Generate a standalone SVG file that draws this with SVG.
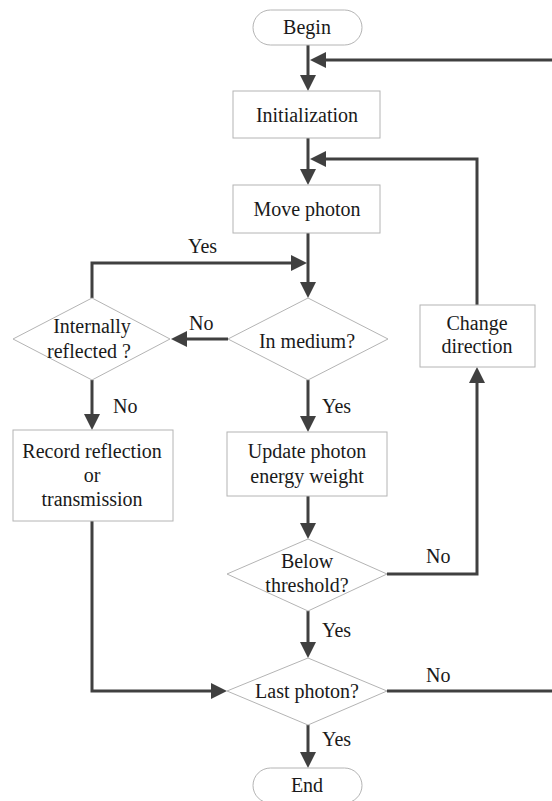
<svg xmlns="http://www.w3.org/2000/svg" width="552" height="801" viewBox="0 0 552 801">
  <style>
    .box { fill: #ffffff; stroke: #b4b4b4; stroke-width: 1; }
    text { font-family: 'Liberation Serif', Tinos, 'Times New Roman', Times, 'DejaVu Serif', serif; font-size: 20px; fill: #1a1a1a; }
    .t { text-anchor: middle; }
    .lbl { text-anchor: start; }
    .c { fill: none; stroke: #404040; stroke-width: 3; }
  </style>
  <defs>
    <marker id="arr" markerUnits="userSpaceOnUse" markerWidth="16" markerHeight="16" refX="10" refY="8" orient="auto">
      <path d="M0,0 L16,8 L0,16 z" fill="#404040"/>
    </marker>
  </defs>
  <rect width="552" height="801" fill="#ffffff"/>

  <g id="connectors">
    <path class="c" d="M308,45 V85" marker-end="url(#arr)"/>
    <path class="c" d="M552,60 H316" marker-end="url(#arr)"/>
    <path class="c" d="M308,138 V179" marker-end="url(#arr)"/>
    <path class="c" d="M477,305 V159 H316" marker-end="url(#arr)"/>
    <path class="c" d="M308,233 V292" marker-end="url(#arr)"/>
    <path class="c" d="M92,298 V263 H301" marker-end="url(#arr)"/>
    <path class="c" d="M228,339 H177" marker-end="url(#arr)"/>
    <path class="c" d="M92,380 V424" marker-end="url(#arr)"/>
    <path class="c" d="M308,380 V426" marker-end="url(#arr)"/>
    <path class="c" d="M308,496 V533" marker-end="url(#arr)"/>
    <path class="c" d="M387,574 H477 V373" marker-end="url(#arr)"/>
    <path class="c" d="M308,611 V652" marker-end="url(#arr)"/>
    <path class="c" d="M92,521 V691 H221" marker-end="url(#arr)"/>
    <path class="c" d="M387,691 H552"/>
    <path class="c" d="M308,725 V762" marker-end="url(#arr)"/>
    <text class="lbl" x="188" y="253" font-family="Liberation Serif, serif">Yes</text>
    <text class="lbl" x="189" y="330">No</text>
    <text class="lbl" x="113" y="413">No</text>
    <text class="lbl" x="322" y="413">Yes</text>
    <text class="lbl" x="426" y="563">No</text>
    <text class="lbl" x="322" y="637">Yes</text>
    <text class="lbl" x="426" y="682">No</text>
    <text class="lbl" x="322" y="746">Yes</text>
  </g>

  <g id="begin">
    <rect class="box" x="253" y="10" width="109" height="35" rx="17.5"/>
    <text class="t" x="307" y="34">Begin</text>
  </g>
  <g id="initialization">
    <rect class="box" x="233" y="91" width="147" height="47"/>
    <text class="t" x="307" y="122">Initialization</text>
  </g>
  <g id="move-photon">
    <rect class="box" x="233" y="185" width="147" height="48"/>
    <text class="t" x="307" y="216">Move photon</text>
  </g>
  <g id="in-medium">
    <polygon class="box" points="308,298 388,339 308,380 228,339"/>
    <text class="t" x="307" y="348">In medium?</text>
  </g>
  <g id="internally-reflected">
    <polygon class="box" points="92,298 170,339 92,380 13,339"/>
    <text class="t" x="92" y="333">Internally</text>
    <text class="t" x="89" y="358">reflected ?</text>
  </g>
  <g id="change-direction">
    <rect class="box" x="420" y="305" width="115" height="62"/>
    <text class="t" x="477" y="330">Change</text>
    <text class="t" x="477" y="353">direction</text>
  </g>
  <g id="record">
    <rect class="box" x="13" y="430" width="160" height="91"/>
    <text class="t" x="92" y="458">Record reflection</text>
    <text class="t" x="92" y="482">or</text>
    <text class="t" x="92" y="506">transmission</text>
  </g>
  <g id="update">
    <rect class="box" x="227" y="432" width="160" height="64"/>
    <text class="t" x="307" y="458">Update photon</text>
    <text class="t" x="307" y="483">energy weight</text>
  </g>
  <g id="below-threshold">
    <polygon class="box" points="308,539 387,574 308,611 227,574"/>
    <text class="t" x="307" y="568">Below</text>
    <text class="t" x="307" y="592">threshold?</text>
  </g>
  <g id="last-photon">
    <polygon class="box" points="308,658 387,691 308,725 227,691"/>
    <text class="t" x="307" y="698">Last photon?</text>
  </g>
  <g id="end">
    <rect class="box" x="253" y="768" width="109" height="35" rx="17.5"/>
    <text class="t" x="307" y="792">End</text>
  </g>
</svg>
